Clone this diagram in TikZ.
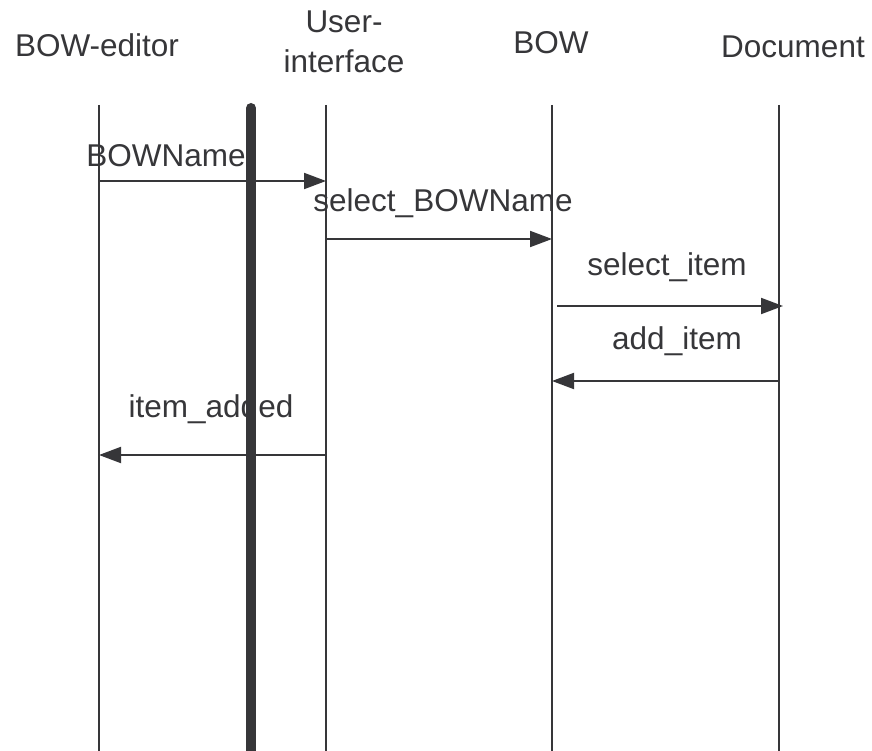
\documentclass[tikz,border=0pt]{standalone}
\usepackage{fontspec}
\setmainfont{Liberation Sans}
\usetikzlibrary{arrows.meta}
\definecolor{ink}{HTML}{363639}
\begin{document}
\begin{tikzpicture}[x=1pt, y=-1pt, color=ink,
    every node/.style={inner sep=0pt, font=\fontsize{31.5}{40}\selectfont},
    lifeline/.style={line width=2pt},
    msg/.style={line width=2pt, -{Triangle[length=22pt, width=16pt]}}]
    \useasboundingbox (0,0) rectangle (872,751);

    % Headers
    \node[anchor=base] (hEditor) at (97,57) {BOW-editor};
    \node[anchor=base, align=center] (hUI) at (344,73) {User-\\interface};
    \node[anchor=base] (hBOW) at (551,54) {BOW};
    \node[anchor=base] (hDoc) at (793,58) {Document};

    % Lifelines
    \foreach \name/\x in {ed/99, ui/326, bow/552, doc/779} {
        \coordinate (\name Top) at (\x,105);
        \coordinate (\name Bot) at (\x,751);
        \draw[lifeline] (\name Top) -- (\name Bot);
    }
    \coordinate (barTop) at (251,108);
    \coordinate (barBot) at (251,760);
    \draw[line width=10pt, line cap=round] (barTop) -- (barBot);

    % Message end points
    \coordinate (m1a) at (99,181);  \coordinate (m1b) at (326,181);
    \coordinate (m2a) at (326,239); \coordinate (m2b) at (552,239);
    \coordinate (m3a) at (557,306); \coordinate (m3b) at (783,306);
    \coordinate (m4a) at (779,381); \coordinate (m4b) at (552,381);
    \coordinate (m5a) at (326,455); \coordinate (m5b) at (99,455);

    % Messages
    \draw[msg] (m1a) -- (m1b);
    \draw[msg] (m2a) -- (m2b);
    \draw[msg] (m3a) -- (m3b);
    \draw[msg] (m4a) -- (m4b);
    \draw[msg] (m5a) -- (m5b);

    % Message labels
    \node[anchor=base] (lBOWName) at (166,167) {BOWName};
    \node[anchor=base] (lSelBOW) at (443,212) {select\_BOWName};
    \node[anchor=base] (lSelItem) at (667,276) {select\_item};
    \node[anchor=base] (lAddItem) at (677,349) {add\_item};
    \node[anchor=base] (lAdded) at (211,417) {item\_added};
\end{tikzpicture}
\end{document}
